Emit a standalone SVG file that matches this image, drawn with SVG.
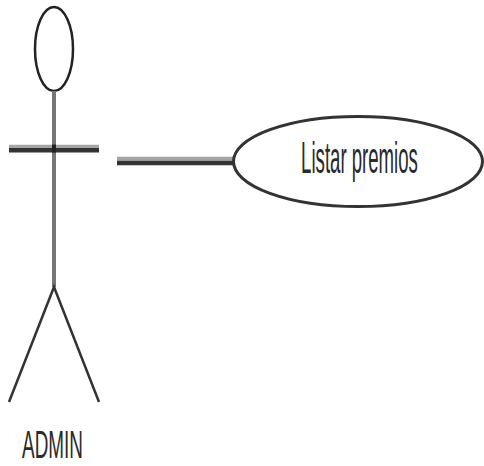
<svg xmlns="http://www.w3.org/2000/svg" width="484" height="466" viewBox="0 0 484 466">
<style>
.txt{font-family:"Liberation Sans",Arial,sans-serif;fill:#2a2a2a;text-anchor:middle}
.dark{stroke:#333;fill:none}
.gray{stroke:#a5a5a5;fill:none}
</style>
<rect width="484" height="466" fill="#fff"/>
<g id="actor-admin">
<ellipse cx="54" cy="49" rx="19" ry="42" fill="#fff" stroke="#222" stroke-width="2.5"/>
<line x1="54" y1="91" x2="54" y2="287" stroke="#777" stroke-width="4"/>
<line class="gray" x1="9" y1="146.3" x2="99" y2="146.3" stroke-width="3.3"/>
<line class="dark" x1="9" y1="150.2" x2="99" y2="150.2" stroke-width="4.5"/>
<line x1="54" y1="144.5" x2="54" y2="152.5" stroke="#222" stroke-width="4"/>
<polyline class="dark" points="9,402 54,287 99,402" stroke-width="2.5"/>
<text class="txt" transform="translate(52.5,458) scale(1,2.1)" font-size="18.9">ADMIN</text>
</g>
<g id="connectors">
<line class="gray" x1="117" y1="158.7" x2="233" y2="158.7" stroke-width="4"/>
<line class="dark" x1="117" y1="163" x2="233" y2="163" stroke-width="4.6"/>
</g>
<g id="usecase-listar-premios">
<ellipse cx="358" cy="161.5" rx="124.5" ry="45" fill="#fff" stroke="#333" stroke-width="3"/>
<text class="txt" transform="translate(359.5,173) scale(1,2.36)" font-size="18.6">Listar premios</text>
</g>
</svg>
